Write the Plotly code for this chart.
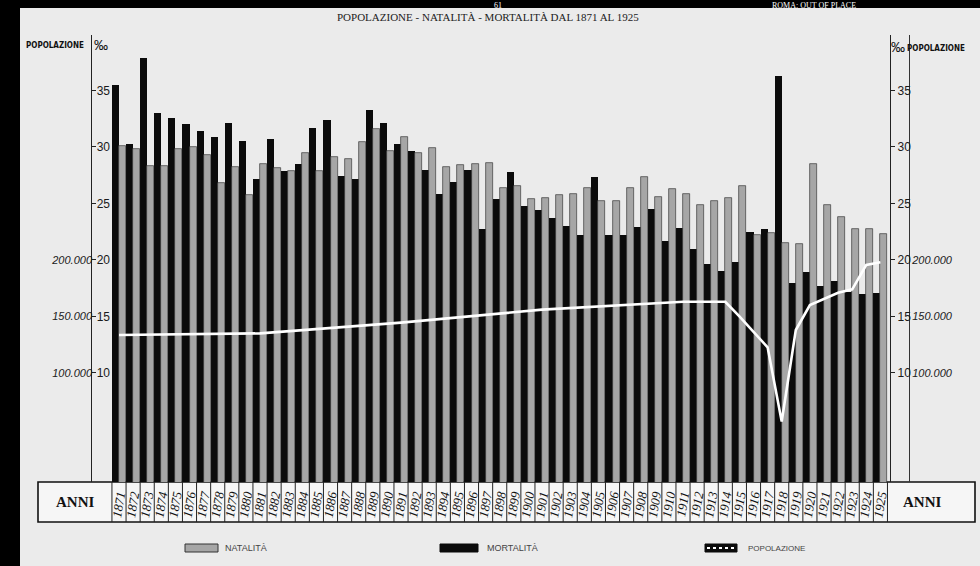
import plotly.graph_objects as go

# ---------------- data ----------------
years = list(range(1871, 1926))

natalita = [30.1, 29.8, 28.3, 28.3, 29.8, 30.0, 29.3, 26.8, 28.2, 25.7,
            28.5, 28.1, 27.9, 29.5, 27.9, 29.1, 28.9, 30.4, 31.6, 29.6,
            30.9, 29.5, 29.9, 28.2, 28.4, 28.5, 28.6, 26.4, 26.5, 25.4,
            25.5, 25.7, 25.8, 26.4, 25.2, 25.2, 26.4, 27.3, 25.6, 26.3,
            25.8, 24.9, 25.2, 25.5, 26.5, 22.2, 22.4, 21.5, 21.4, 28.5,
            24.9, 23.8, 22.7, 22.7, 22.3]

mortalita = [35.5, 30.3, 37.9, 33.0, 32.6, 32.0, 31.4, 30.9, 32.1, 30.5,
             27.2, 30.7, 27.9, 28.5, 31.7, 32.4, 27.4, 27.2, 33.3, 32.1,
             30.3, 29.6, 28.0, 25.8, 26.9, 28.0, 22.7, 25.4, 27.8, 24.8,
             24.4, 23.7, 23.0, 22.2, 27.3, 22.2, 22.2, 22.9, 24.5, 21.7,
             22.8, 21.0, 19.6, 19.0, 19.8, 22.5, 22.7, 36.3, 18.0, 18.9,
             17.7, 18.1, 17.2, 17.0, 17.1]

pop_years = [1871, 1881, 1891, 1901, 1911, 1914, 1915, 1916, 1917, 1918,
             1919, 1920, 1921, 1922, 1923, 1924, 1925]
popolazione = [133600, 135000, 144500, 156000, 163000, 163000, 150000, 136500,
               122700, 57000, 138000, 160000, 165500, 171000, 174000, 195600, 198000]

rate_ticks = [10, 15, 20, 25, 30, 35]
pop_ticks = [100000, 150000, 200000]
pop_ticktext = ["100.000", "150.000", "200.000"]

title_text = "POPOLAZIONE - NATALITÀ - MORTALITÀ DAL 1871 AL 1925"

# ---------------- layout geometry (pixels) ----------------
W, H = 980, 566
L, R, T, B = 92, 71, 35, 84
PW = W - L - R          # paper width used for paper coords
PH = H - T - B          # plot height
X_RIGHT_AXIS = 890


def px(x):
    return (x - L) / PW


def py(y):
    return (H - B - y) / PH


RATE_RANGE = [0.35, 39.9]
POP_RANGE = [v * 10000 for v in RATE_RANGE]
X_RANGE = [1869.085, 1925.68]

BG = "#ebebeb"
GRAY = "#a6a6a6"
BLACK = "#0b0b0b"

fig = go.Figure()

fig.add_trace(go.Bar(x=years, y=mortalita, name="MORTALITÀ",
                     marker=dict(color=BLACK, line=dict(width=0)),
                     showlegend=False))
fig.add_trace(go.Bar(x=years, y=natalita, name="NATALITÀ",
                     marker=dict(color=GRAY, line=dict(color="#3a3a3a", width=0.7)),
                     showlegend=False))
fig.add_trace(go.Scatter(x=pop_years, y=popolazione, yaxis="y3", mode="lines",
                         name="POPOLAZIONE", line=dict(color="white", width=2.6),
                         showlegend=False))
# invisible helpers so that the right-hand axes are drawn
fig.add_trace(go.Scatter(x=[years[0]], y=[natalita[0]], yaxis="y2", mode="markers",
                         marker=dict(opacity=0), hoverinfo="skip", showlegend=False))
fig.add_trace(go.Scatter(x=[pop_years[0]], y=[popolazione[0]], yaxis="y4", mode="markers",
                         marker=dict(opacity=0), hoverinfo="skip", showlegend=False))

tick_font = dict(family="Liberation Sans, Arial, sans-serif", size=12, color="#1a1a1a")
pop_font = dict(family="Liberation Sans, Arial, sans-serif", size=11, color="#1a1a1a",
                style="italic")

fig.update_layout(
    width=W, height=H,
    margin=dict(l=L, r=R, t=T, b=B),
    paper_bgcolor=BG, plot_bgcolor=BG,
    barmode="group", bargap=0, bargroupgap=0,
    showlegend=False,
    xaxis=dict(domain=[0, (X_RIGHT_AXIS - L) / PW], range=X_RANGE,
               tickmode="array", tickvals=years, ticktext=[str(y) for y in years],
               tickangle=-80, ticks="", showline=False, showgrid=False, zeroline=False,
               tickfont=dict(family="Liberation Serif, serif", size=13, color="#111",
                             style="italic"),
               ticklabelstandoff=2, fixedrange=True),
    yaxis=dict(range=RATE_RANGE, tickvals=rate_ticks, showgrid=False, zeroline=False,
               showline=True, linecolor="#222", linewidth=1.2,
               ticks="inside", ticklen=4, tickcolor="#222",
               ticklabelposition="inside", tickfont=tick_font, fixedrange=True),
    yaxis2=dict(range=RATE_RANGE, tickvals=rate_ticks, overlaying="y", side="right",
                anchor="x", showgrid=False, zeroline=False,
                showline=True, linecolor="#222", linewidth=1.2,
                ticks="outside", ticklen=4, tickcolor="#222",
                tickfont=tick_font, fixedrange=True),
    yaxis3=dict(range=POP_RANGE, tickvals=pop_ticks, ticktext=pop_ticktext,
                overlaying="y", side="left", anchor="free", position=0,
                showgrid=False, zeroline=False, showline=False, ticks="",
                tickfont=pop_font, fixedrange=True),
    yaxis4=dict(range=POP_RANGE, tickvals=pop_ticks, ticktext=pop_ticktext,
                overlaying="y", side="right", anchor="free", position=1,
                showgrid=False, zeroline=False, showline=True, linecolor="#333",
                linewidth=1, ticks="", tickfont=pop_font, fixedrange=True),
)

shapes = []
# scan borders (black)
shapes.append(dict(type="rect", xref="paper", yref="paper",
                   x0=px(0), x1=px(20), y0=py(H), y1=py(0),
                   fillcolor="black", line=dict(width=0), layer="above"))
shapes.append(dict(type="rect", xref="paper", yref="paper",
                   x0=px(0), x1=px(W), y0=py(8), y1=py(0),
                   fillcolor="black", line=dict(width=0), layer="above"))
# the "ANNI" strip
shapes.append(dict(type="rect", xref="paper", yref="paper",
                   x0=px(38), x1=px(975), y0=py(522), y1=py(482),
                   fillcolor="#f6f6f6", line=dict(color="#111", width=1.6), layer="below"))
# cell separators between years
bounds = [y - 0.5 for y in years] + [years[-1] + 0.5]
for b in bounds:
    shapes.append(dict(type="line", xref="x", yref="paper", x0=b, x1=b,
                       y0=py(522), y1=py(482), line=dict(color="#222", width=1),
                       layer="above"))

# legend swatches
LEG_Y0, LEG_Y1 = 552, 544
shapes.append(dict(type="rect", xref="paper", yref="paper",
                   x0=px(185), x1=px(218), y0=py(LEG_Y0), y1=py(LEG_Y1),
                   fillcolor=GRAY, line=dict(color="#333", width=1)))
shapes.append(dict(type="rect", xref="paper", yref="paper",
                   x0=px(440), x1=px(478), y0=py(LEG_Y0), y1=py(LEG_Y1),
                   fillcolor=BLACK, line=dict(color=BLACK, width=1)))
shapes.append(dict(type="rect", xref="paper", yref="paper",
                   x0=px(705), x1=px(737), y0=py(LEG_Y0), y1=py(LEG_Y1),
                   fillcolor=BLACK, line=dict(color=BLACK, width=1)))
shapes.append(dict(type="line", xref="paper", yref="paper",
                   x0=px(707), x1=px(735), y0=py(548), y1=py(548),
                   line=dict(color="white", width=2, dash="dot")))

annotations = []


def ann(text, x, y, size, family="Liberation Sans, Arial, sans-serif", color="#1a1a1a",
        xanchor="center", yanchor="middle", **kw):
    annotations.append(dict(text=text, x=px(x), y=py(y), xref="paper", yref="paper",
                            showarrow=False, xanchor=xanchor, yanchor=yanchor,
                            font=dict(family=family, size=size, color=color, **kw)))


ann(title_text, 488, 17, 11, family="Liberation Serif, serif", color="#222")
ann("61", 498, -1, 8, family="Liberation Serif, serif", color="white", yanchor="top")
ann("ROMA: OUT OF PLACE", 770, -1, 8, family="Liberation Serif, serif", color="white",
    xanchor="left", yanchor="top")
ann("POPOLAZIONE", 55, 45, 8, family="DejaVu Sans Condensed, DejaVu Sans, sans-serif",
    color="#111", weight="bold")
ann("‰", 101, 45, 14, color="#111")
ann("‰", 898, 47, 14, color="#111")
ann("POPOLAZIONE", 936, 48, 8, family="DejaVu Sans Condensed, DejaVu Sans, sans-serif",
    color="#111", weight="bold")
ann("ANNI", 75, 502, 15, family="Liberation Serif, serif", color="#111", weight="bold")
ann("ANNI", 922, 502, 15, family="Liberation Serif, serif", color="#111", weight="bold")
ann("NATALITÀ", 223, 548, 9, color="#444", xanchor="left")
ann("MORTALITÀ", 485, 548, 9, color="#444", xanchor="left")
ann("POPOLAZIONE", 746, 548, 8, color="#444", xanchor="left")

fig.update_layout(shapes=shapes, annotations=annotations)

# remove the default page margin so the 980x566 figure fills the window exactly
page_fix = ("document.body.style.margin='0px';"
            "document.body.style.padding='0px';"
            "document.body.style.background='#ebebeb';")

fig.write_html("out.html", post_script=page_fix, config={"displayModeBar": False})
